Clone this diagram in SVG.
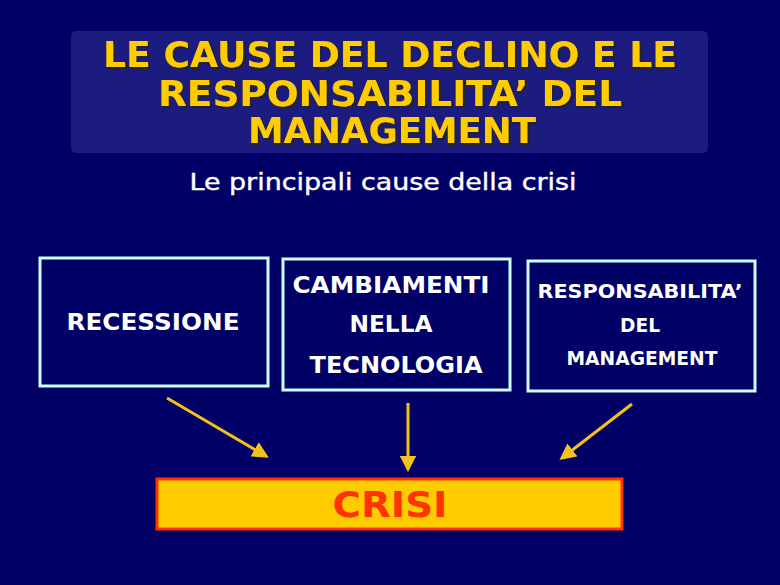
<svg xmlns="http://www.w3.org/2000/svg" width="780" height="585" viewBox="0 0 780 585">
<defs>
<style>
.t{font-family:"DejaVu Sans","Liberation Sans",sans-serif;font-weight:bold;text-anchor:middle}
.title{fill:#FFCC00;font-size:36px;filter:url(#sh)}
.box{fill:#000066;stroke:#CCFFFF;stroke-width:3}
.lbl{fill:#FFFFFF;font-size:23px}
.lbl2{fill:#FFFFFF;font-size:20px}
.arr{stroke:#F2C21A;stroke-width:3;fill:none;marker-end:url(#ah)}
</style>
<filter id="sh" x="-5%" y="-20%" width="110%" height="150%">
<feDropShadow dx="2" dy="2" stdDeviation="0.3" flood-color="#202020" flood-opacity="1"/>
</filter>
<marker id="ah" viewBox="0 0 10 10" refX="8" refY="5" markerWidth="5.5" markerHeight="5.5" orient="auto" markerUnits="strokeWidth">
<path d="M0,0 L10,5 L0,10 z" fill="#F2C21A"/>
</marker>
</defs>
<rect x="0" y="0" width="780" height="585" fill="#000066"/>
<g id="title">
<rect x="71" y="31" width="637" height="122" rx="5" fill="#1C1C80"/>
<text class="t title" x="390" y="67" textLength="574" lengthAdjust="spacingAndGlyphs">LE CAUSE DEL DECLINO E LE</text>
<text class="t title" x="390" y="106" textLength="464" lengthAdjust="spacingAndGlyphs">RESPONSABILITA’ DEL</text>
<text class="t title" x="392" y="143" textLength="288" lengthAdjust="spacingAndGlyphs">MANAGEMENT</text>
</g>
<g id="subtitle">
<text class="t" x="383" y="190" fill="#FFFFFF" style="font-weight:normal;font-size:23px;stroke:#FFFFFF;stroke-width:0.4" textLength="387" lengthAdjust="spacingAndGlyphs">Le principali cause della crisi</text>
</g>
<g id="recessione">
<rect class="box" x="40" y="258" width="228" height="128"/>
<text class="t lbl" x="153" y="330" textLength="173" lengthAdjust="spacingAndGlyphs">RECESSIONE</text>
</g>
<g id="tecnologia">
<rect class="box" x="283" y="259" width="227" height="131"/>
<text class="t lbl" x="391" y="293" textLength="197" lengthAdjust="spacingAndGlyphs">CAMBIAMENTI</text>
<text class="t lbl" x="391" y="332" textLength="83" lengthAdjust="spacingAndGlyphs">NELLA</text>
<text class="t lbl" x="396" y="373" textLength="173" lengthAdjust="spacingAndGlyphs">TECNOLOGIA</text>
</g>
<g id="management">
<rect class="box" x="528" y="261" width="227" height="130"/>
<text class="t lbl2" x="640" y="298" textLength="205" lengthAdjust="spacingAndGlyphs">RESPONSABILITA’</text>
<text class="t lbl2" x="640" y="332" textLength="40" lengthAdjust="spacingAndGlyphs">DEL</text>
<text class="t lbl2" x="642" y="365" textLength="151" lengthAdjust="spacingAndGlyphs">MANAGEMENT</text>
</g>
<g id="crisi">
<rect x="157" y="479" width="465" height="50" fill="#FFCC00" stroke="#FF3300" stroke-width="3"/>
<text class="t" x="390" y="517" fill="#FF3300" style="font-size:35px" textLength="115" lengthAdjust="spacingAndGlyphs">CRISI</text>
</g>
<g id="connectors">
<line class="arr" x1="167" y1="398" x2="266" y2="456"/>
<line class="arr" x1="408" y1="403" x2="408" y2="469"/>
<line class="arr" x1="632" y1="404" x2="562" y2="458"/>
</g>
</svg>
